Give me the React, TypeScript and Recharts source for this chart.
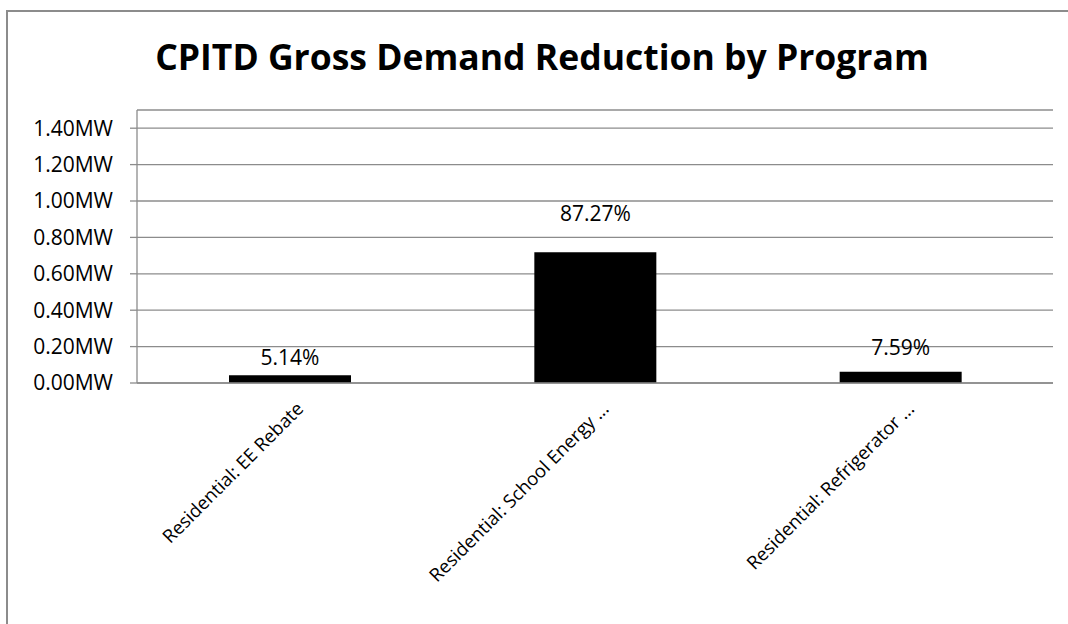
import React from "react";
import { Bar, BarChart, CartesianGrid, LabelList, XAxis, YAxis } from "recharts";

const programs = [
  "Residential: EE Rebate",
  "Residential: School Energy ...",
  "Residential: Refrigerator ...",
];
const demandMW = [0.043, 0.718, 0.0625];
const shareLabels = ["5.14%", "87.27%", "7.59%"];
const yTicks = [0, 0.2, 0.4, 0.6, 0.8, 1.0, 1.2, 1.4];

// Excel placed the data labels at slightly different heights above each bar
const labelGaps = [10, 31, 17];

const data = programs.map((name, i) => ({ name, value: demandMW[i], share: shareLabels[i] }));

const FONT = "'Open Sans', 'DejaVu Sans', sans-serif";
const GRAY = "#8c8c8c";

const XTick = (props: any) => {
  const { x, y, payload } = props;
  const tx = x + 15;
  const ty = y + 19;
  return (
    <text
      x={tx}
      y={ty}
      transform={`rotate(-45, ${tx}, ${ty})`}
      textAnchor="end"
      fontSize={18.5}
      fontFamily={FONT}
      fill="#000"
    >
      {payload.value}
    </text>
  );
};

const ShareLabel = (props: any) => {
  const { x, y, width, index, value } = props;
  return (
    <text
      x={x + width / 2}
      y={y - labelGaps[index]}
      textAnchor="middle"
      fontSize={21}
      fontFamily={FONT}
      fill="#000"
    >
      {value}
    </text>
  );
};

export default function App() {
  return (
    <div style={{ position: "absolute", left: 0, top: 0, width: 1068, height: 624, overflow: "hidden", background: "#fff" }}>
      <div
        style={{
          position: "absolute",
          left: 6,
          top: 10,
          width: 1100,
          height: 700,
          border: `2px solid ${GRAY}`,
          boxSizing: "border-box",
        }}
      />
      <div
        style={{
          position: "absolute",
          left: 0,
          top: 33,
          width: 1084,
          textAlign: "center",
          fontFamily: FONT,
          fontWeight: 700,
          fontSize: 35.5,
          color: "#000",
          lineHeight: "46px",
        }}
      >
        CPITD Gross Demand Reduction by Program
      </div>
      <div style={{ position: "absolute", left: 0, top: 0 }}>
        <BarChart
          width={1068}
          height={624}
          data={data}
          margin={{ top: 110, right: 15, bottom: 41, left: 0 }}
        >
          <CartesianGrid vertical={false} stroke={GRAY} strokeWidth={1.3} />
          <XAxis
            dataKey="name"
            height={200}
            interval={0}
            tickLine={false}
            axisLine={{ stroke: GRAY, strokeWidth: 1.3 }}
            tick={<XTick />}
          />
          <YAxis
            width={137}
            domain={[0, 1.5]}
            ticks={yTicks}
            tickFormatter={(v: number) => `${v.toFixed(2)}MW`}
            tickSize={7}
            tickMargin={17}
            axisLine={{ stroke: GRAY, strokeWidth: 1.3 }}
            tickLine={{ stroke: GRAY, strokeWidth: 1.3 }}
            tick={{ fill: "#000", fontSize: 21, fontFamily: FONT }}
          />
          <Bar dataKey="value" fill="#000" barSize={122} isAnimationActive={false}>
            <LabelList dataKey="share" content={<ShareLabel />} />
          </Bar>
        </BarChart>
      </div>
    </div>
  );
}
